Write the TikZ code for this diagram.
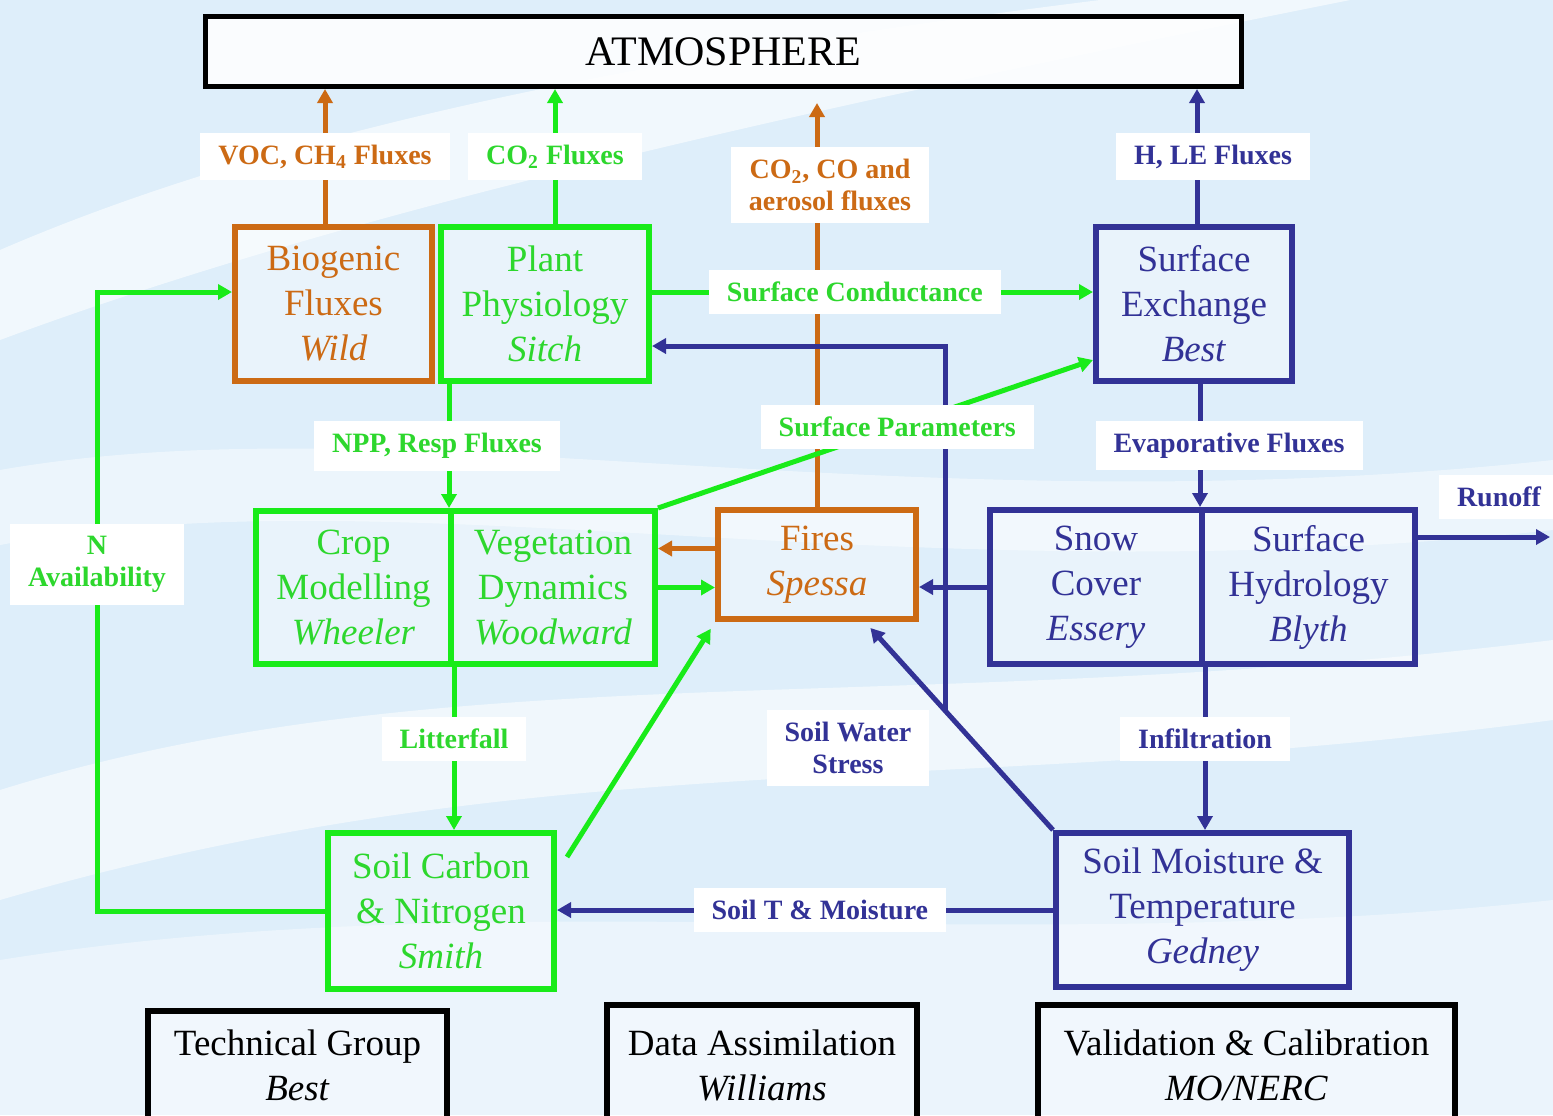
\documentclass[tikz,border=0pt]{standalone}
\usepackage{fontspec}
\setmainfont{Liberation Serif}
\usetikzlibrary{shapes,arrows.meta,positioning,calc}

\definecolor{fireorange}{RGB}{204,106,20}
\definecolor{veggreen}{RGB}{25,235,25}
\definecolor{vegtext}{RGB}{45,215,45}
\definecolor{watblue}{RGB}{50,50,150}
\definecolor{skyback}{RGB}{222,238,250}

\begin{document}
\begin{tikzpicture}[x=0.5pt,y=-0.5pt,>={Triangle[length=7pt,width=7.5pt]}]
    \tikzstyle{box}=[draw,line width=3pt,fill=white,fill opacity=0.35,text opacity=1,align=center,inner sep=0pt,font=\fontsize{18.5}{22.5}\selectfont]
    \tikzstyle{fire box}=[box,draw=fireorange,text=fireorange]
    \tikzstyle{veg box}=[box,draw=veggreen,text=vegtext]
    \tikzstyle{water box}=[box,draw=watblue,text=watblue]
    \tikzstyle{group box}=[box,draw=black,text=black]
    \tikzstyle{flux}=[line width=2.5pt,->]
    \tikzstyle{fire flux}=[flux,draw=fireorange]
    \tikzstyle{veg flux}=[flux,draw=veggreen]
    \tikzstyle{water flux}=[flux,draw=watblue]
    \tikzstyle{annot}=[fill=white,inner xsep=9pt,inner ysep=6pt,align=center,font=\bfseries\fontsize{14}{16}\selectfont]
    \tikzstyle{fire annot}=[annot,text=fireorange]
    \tikzstyle{veg annot}=[annot,text=vegtext]
    \tikzstyle{water annot}=[annot,text=watblue]

    \useasboundingbox (0,0) rectangle (1553,1115);
    \clip (0,0) rectangle (1553,1115);

    % Background and waves
    \fill[skyback] (0,0) rectangle (1553,1115);
    \fill[white,opacity=0.6] (0,250) .. controls (300,120) and (700,50) .. (1100,0) -- (1350,0) .. controls (800,110) and (350,210) .. (0,340) -- cycle;
    \fill[white,opacity=0.45] (0,470) .. controls (400,400) and (900,530) .. (1553,460) -- (1553,530) .. controls (900,600) and (400,470) .. (0,545) -- cycle;
    \fill[white,opacity=0.55] (0,790) .. controls (450,650) and (900,720) .. (1553,640) -- (1553,720) .. controls (950,800) and (550,740) .. (0,900) -- cycle;
    \fill[white,opacity=0.4] (0,960) .. controls (500,880) and (1000,960) .. (1553,900) -- (1553,1115) -- (0,1115) -- cycle;

    % Draw the model boxes
    \node[group box,line width=2.5pt,minimum width=518pt,minimum height=35pt,fill opacity=0.85,font=\fontsize{21}{24}\selectfont] (atm) at (723.5,51.5) {ATMOSPHERE};
    \node[fire box,minimum width=98.5pt,minimum height=77pt] (bio) at (333.5,304) {Biogenic\\Fluxes\\\textit{Wild}};
    \node[veg box,minimum width=104pt,minimum height=77pt] (plant) at (545,304) {Plant\\Physiology\\\textit{Sitch}};
    \node[water box,minimum width=98pt,minimum height=77pt] (surf) at (1194,304) {Surface\\Exchange\\\textit{Best}};
    \node[veg box,minimum width=97.5pt,minimum height=76.5pt] (crop) at (353.5,587.5) {Crop\\Modelling\\\textit{Wheeler}};
    \node[veg box,minimum width=102pt,minimum height=76.5pt] (veg) at (553,587.5) {Vegetation\\Dynamics\\\textit{Woodward}};
    \node[fire box,minimum width=99pt,minimum height=54.5pt] (fires) at (817,564.5) {Fires\\\textit{Spessa}};
    \node[water box,minimum width=106pt,minimum height=77pt] (snow) at (1096,587) {Snow\\Cover\\\textit{Essery}};
    \node[water box,minimum width=106.5pt,minimum height=77pt] (hydro) at (1308.5,587) {Surface\\Hydrology\\\textit{Blyth}};
    \node[veg box,minimum width=113pt,minimum height=78pt] (soilc) at (441,911) {Soil Carbon\\\& Nitrogen\\\textit{Smith}};
    \node[water box,minimum width=146.5pt,minimum height=77pt] (soilm) at (1202.5,910) {Soil Moisture \&\\Temperature\\\textit{Gedney}};

    % Draw the group boxes
    \node[group box,minimum width=149.5pt,minimum height=54pt] (tech) at (297.5,1065) {Technical Group\\\textit{Best}};
    \node[group box,minimum width=155pt,minimum height=60pt] (assim) at (762,1065) {Data Assimilation\\\textit{Williams}};
    \node[group box,minimum width=208.5pt,minimum height=60pt] (valid) at (1246.5,1065) {Validation \& Calibration\\\textit{MO/NERC}};

    % Fluxes to the atmosphere
    \draw[fire flux] ([xshift=-4.25pt]bio.north) -- node[fire annot]{VOC, CH\textsubscript{4} Fluxes} ([xshift=-4.25pt]bio.north |- atm.south);
    \draw[veg flux] ([xshift=5pt]plant.north) -- node[veg annot]{CO\textsubscript{2} Fluxes} ([xshift=5pt]plant.north |- atm.south);
    \draw[fire flux,shorten >=7pt] (fires.north) -- node[fire annot,pos=0.77,xshift=6.5pt]{CO\textsubscript{2}, CO and\\aerosol fluxes} (fires.north |- atm.south);
    \draw[water flux] ([xshift=1.5pt]surf.north) -- node[water annot,xshift=8pt]{H, LE Fluxes} ([xshift=1.5pt]surf.north |- atm.south);

    % Soil water stress to fires and plants
    \draw[water flux,shorten >=4pt] (soilm.north west) -- ([xshift=24pt]fires.south);
    \coordinate (stress) at ($(soilm.north west)!0.574!([xshift=24pt]fires.south)$);
    \draw[water flux] (stress) |- ([yshift=-21pt]plant.east);
    \node[water annot] (stressl) at (848,748) {Soil Water\\Stress};

    % Vegetation to surface exchange
    \draw[veg flux] ([yshift=6pt]plant.east) -- node[veg annot,pos=0.46]{Surface Conductance} ([yshift=6pt]plant.east -| surf.west);
    \draw[veg flux] (veg.north east) -- node[veg annot,pos=0.55]{Surface Parameters} ([yshift=-28pt]surf.west);

    % Carbon down the vegetation column
    \draw[veg flux] ([xshift=-48pt]plant.south) -- node[veg annot,xshift=-6pt]{NPP, Resp Fluxes} ([xshift=-48pt]plant.south |- veg.north);
    \draw[veg flux] (crop.south east) -- node[veg annot,pos=0.44]{Litterfall} (crop.south east |- soilc.north);
    \draw[veg flux] (soilc.west) -- ++(-114pt,0) |- node[veg annot,pos=0.28]{N\\Availability} ([yshift=6pt]bio.west);

    % Fires and vegetation
    \draw[fire flux] ([yshift=8pt]fires.west) -- ([yshift=8pt]fires.west -| veg.east);
    \draw[veg flux] (veg.east) -- (veg.east -| fires.west);
    \draw[veg flux,shorten >=4pt] ([shift={(5pt,-13.5pt)}]soilc.north east) -- (fires.south west);

    % Water down the hydrology column
    \draw[water flux] ([xshift=3pt]surf.south) -- node[water annot,xshift=14.5pt]{Evaporative Fluxes} ([xshift=3pt]surf.south |- snow.north);
    \draw[water flux] (snow.south east) -- node[water annot,pos=0.44]{Infiltration} (snow.south east |- soilm.north);
    \draw[water flux] (snow.west) -- (snow.west -| fires.east);
    \coordinate (runoff) at (1550,537);
    \draw[water flux] (hydro.east |- runoff) -- (runoff);
    \node[water annot] (runoffl) at (1499,497) {Runoff};
    \draw[water flux] (soilm.west) -- node[water annot,pos=0.47]{Soil T \& Moisture} (soilm.west -| soilc.east);
\end{tikzpicture}
\end{document}
